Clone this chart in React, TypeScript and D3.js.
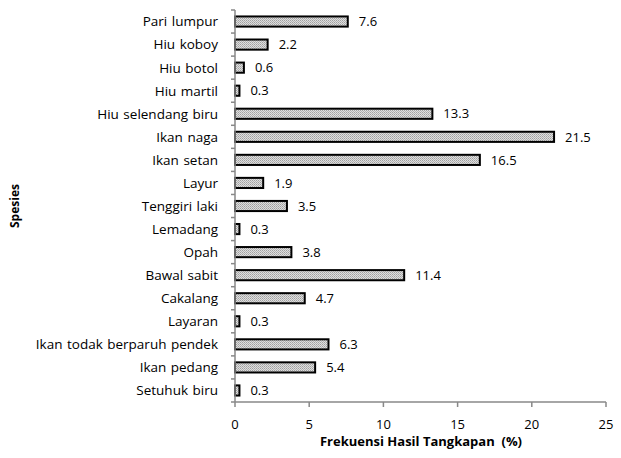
import React from "react";
import * as d3 from "d3";

// species, top to bottom
const species = [
  "Pari lumpur",
  "Hiu koboy",
  "Hiu botol",
  "Hiu martil",
  "Hiu selendang biru",
  "Ikan naga",
  "Ikan setan",
  "Layur",
  "Tenggiri laki",
  "Lemadang",
  "Opah",
  "Bawal sabit",
  "Cakalang",
  "Layaran",
  "Ikan todak berparuh pendek",
  "Ikan pedang",
  "Setuhuk biru",
];
const frekuensi = [7.6, 2.2, 0.6, 0.3, 13.3, 21.5, 16.5, 1.9, 3.5, 0.3, 3.8, 11.4, 4.7, 0.3, 6.3, 5.4, 0.3];
const xTicks = [0, 5, 10, 15, 20, 25];

const W = 621;
const H = 458;
const left = 235;
const right = 606;
const top = 10;
const bottom = 402;
const font = "'Open Sans', Lato, sans-serif";

export default function App() {
  const x = d3.scaleLinear().domain([0, 25]).range([left, right]);
  const y = d3.scaleBand().domain(species).range([top, bottom]).paddingInner(0.56).paddingOuter(0.28);
  const band = (bottom - top) / species.length;
  const bounds = d3.range(species.length + 1).map((i) => top + i * band);

  return (
    <svg width={W} height={H} style={{ position: "absolute", left: 0, top: 0, background: "#fff" }}>
      <defs>
        <pattern id="dots" width="2" height="2" patternUnits="userSpaceOnUse">
          <rect width="2" height="2" fill="#dedede" />
          <rect width="1" height="1" fill="#a0a0a0" />
          <rect x="1" y="1" width="1" height="1" fill="#b4b4b4" />
        </pattern>
      </defs>
      {/* bars */}
      {species.map((s, i) => (
        <g key={s}>
          <rect
            x={x(0)}
            y={y(s)!}
            width={x(frekuensi[i]) - x(0)}
            height={y.bandwidth()}
            fill="url(#dots)"
            stroke="#000"
            strokeWidth={2}
          />
          <text
            x={x(frekuensi[i]) + 11}
            y={y(s)! + y.bandwidth() / 2}
            dy="0.36em"
            fontFamily={font}
            fontSize={13}
            fill="#000"
          >
            {frekuensi[i]}
          </text>
          <text
            x={218}
            y={y(s)! + y.bandwidth() / 2}
            dy="0.36em"
            textAnchor="end"
            fontFamily={font}
            fontSize={13.5}
            wordSpacing={1}
            fill="#000"
          >
            {s}
          </text>
        </g>
      ))}
      {/* y axis */}
      <line x1={left} x2={left} y1={top} y2={bottom} stroke="#888" strokeWidth={1.5} />
      {bounds.map((b, i) => (
        <line key={i} x1={left - 4} x2={left} y1={b} y2={b} stroke="#888" strokeWidth={1.5} />
      ))}
      {/* x axis */}
      <line x1={left} x2={right} y1={bottom} y2={bottom} stroke="#888" strokeWidth={1.5} />
      {xTicks.map((t) => (
        <g key={t}>
          <line x1={x(t)} x2={x(t)} y1={bottom} y2={bottom + 5} stroke="#888" strokeWidth={1.5} />
          <text x={x(t)} y={429} textAnchor="middle" fontFamily={font} fontSize={13} fill="#000">
            {t}
          </text>
        </g>
      ))}
      <text
        x={421}
        y={446}
        textAnchor="middle"
        fontFamily={font}
        fontSize={13}
        fontWeight="bold"
        fill="#000"
        style={{ whiteSpace: "pre" }}
      >
        Frekuensi Hasil Tangkapan  (%)
      </text>
      <text
        transform={`translate(19,${(top + bottom) / 2}) rotate(-90)`}
        textAnchor="middle"
        fontFamily={font}
        fontSize={12}
        fontWeight="bold"
        fill="#000"
      >
        Spesies
      </text>
    </svg>
  );
}
